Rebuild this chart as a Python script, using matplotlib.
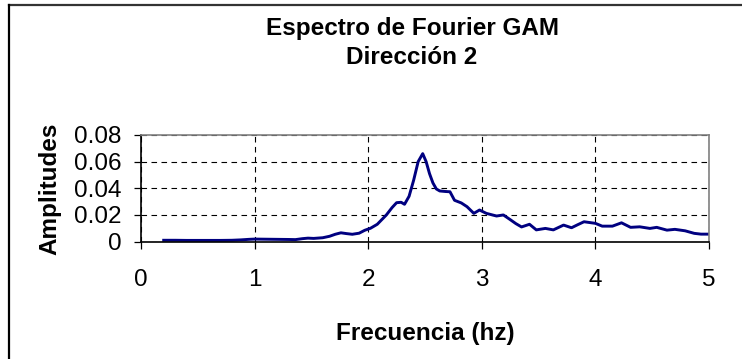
import matplotlib.pyplot as plt
from matplotlib.lines import Line2D

plt.rcParams['font.family'] = ['Liberation Sans', 'DejaVu Sans']

# Fourier spectrum, direction 2 (frequency in Hz, amplitude)
freq = [0.20, 0.30, 0.40, 0.50, 0.60, 0.70, 0.80, 0.88, 0.95, 1.00, 1.10, 1.20,
        1.30, 1.36, 1.42, 1.47, 1.52, 1.60, 1.66, 1.71, 1.76, 1.81, 1.86, 1.92,
        1.97, 2.02, 2.08, 2.12, 2.16, 2.21, 2.25, 2.29, 2.32, 2.36, 2.40, 2.44,
        2.48, 2.51, 2.54, 2.57, 2.60, 2.63, 2.68, 2.72, 2.76, 2.82, 2.87, 2.93,
        2.98, 3.04, 3.13, 3.19, 3.25, 3.30, 3.35, 3.42, 3.48, 3.56, 3.63, 3.72,
        3.79, 3.84, 3.90, 4.00, 4.06, 4.15, 4.23, 4.31, 4.39, 4.48, 4.54, 4.63,
        4.70, 4.79, 4.87, 4.93, 5.00]
amp = [0.0010, 0.0010, 0.0009, 0.0009, 0.0009, 0.0009, 0.0010, 0.0013, 0.0017, 0.0019,
       0.0018, 0.0017, 0.0016, 0.0015, 0.0022, 0.0026, 0.0024, 0.0029, 0.0040, 0.0055,
       0.0066, 0.0060, 0.0055, 0.0063, 0.0085, 0.0100, 0.0130, 0.0165, 0.0200, 0.0255,
       0.0292, 0.0295, 0.0280, 0.0340, 0.0460, 0.0600, 0.0660, 0.0600, 0.0510, 0.0440,
       0.0395, 0.0380, 0.0376, 0.0374, 0.0310, 0.0290, 0.0262, 0.0212, 0.0237, 0.0212,
       0.0192, 0.0200, 0.0165, 0.0135, 0.0110, 0.0130, 0.0088, 0.0099, 0.0088, 0.0124,
       0.0104, 0.0125, 0.0149, 0.0137, 0.0116, 0.0116, 0.0141, 0.0107, 0.0111, 0.0099,
       0.0107, 0.0086, 0.0092, 0.0081, 0.0062, 0.0056, 0.0056]

x_ticks = [0, 1, 2, 3, 4, 5]
y_ticks = [0, 0.02, 0.04, 0.06, 0.08]
y_tick_labels = ['0', '0.02', '0.04', '0.06', '0.08']

fig = plt.figure(figsize=(7.42, 3.59), dpi=100)
ax = fig.add_axes([0.190, 0.327, 0.7655, 0.297])

ax.plot(freq, amp, color='#000080', linewidth=2.1, solid_joinstyle='round')

ax.set_xlim(0, 5)
ax.set_ylim(0, 0.08)
ax.set_xticks(x_ticks)
ax.set_xticklabels([str(t) for t in x_ticks])
ax.set_yticks(y_ticks)
ax.set_yticklabels(y_tick_labels)

ax.grid(True, color='black', linestyle=(0, (5, 4)), linewidth=0.8)
ax.set_axisbelow(True)

for side in ['top', 'right']:
    ax.spines[side].set_color('#808080')
    ax.spines[side].set_linewidth(1.2)
for side in ['left', 'bottom']:
    ax.spines[side].set_color('black')
    ax.spines[side].set_linewidth(1.2)

ax.tick_params(axis='y', direction='out', length=5, width=0.9, pad=9, labelsize=17.5)
ax.tick_params(axis='x', direction='out', length=5, width=0.9, pad=15, labelsize=17.5)

ax.set_xlabel('Frecuencia (hz)', fontsize=17.5, fontweight='bold', labelpad=22)
fig.text(50 / 742, 1 - 189 / 359, 'Amplitudes', rotation=90, fontsize=17.5,
         fontweight='bold', ha='center', va='center')

fig.text(412 / 742, 1 - 28 / 359, 'Espectro de Fourier GAM', fontsize=17.5,
         fontweight='bold', ha='center', va='center')
fig.text(412 / 742, 1 - 57 / 359, 'Dirección 2', fontsize=17.5,
         fontweight='bold', ha='center', va='center')

# chart area frame (only top and left edges fall inside the canvas)
fig.add_artist(Line2D([9 / 742, 1], [1 - 5 / 359, 1 - 5 / 359],
                      transform=fig.transFigure, color='#333333', linewidth=1.6))
fig.add_artist(Line2D([9 / 742, 9 / 742], [0, 1 - 5 / 359],
                      transform=fig.transFigure, color='black', linewidth=1.6))

fig.savefig('out.png', dpi=100)
